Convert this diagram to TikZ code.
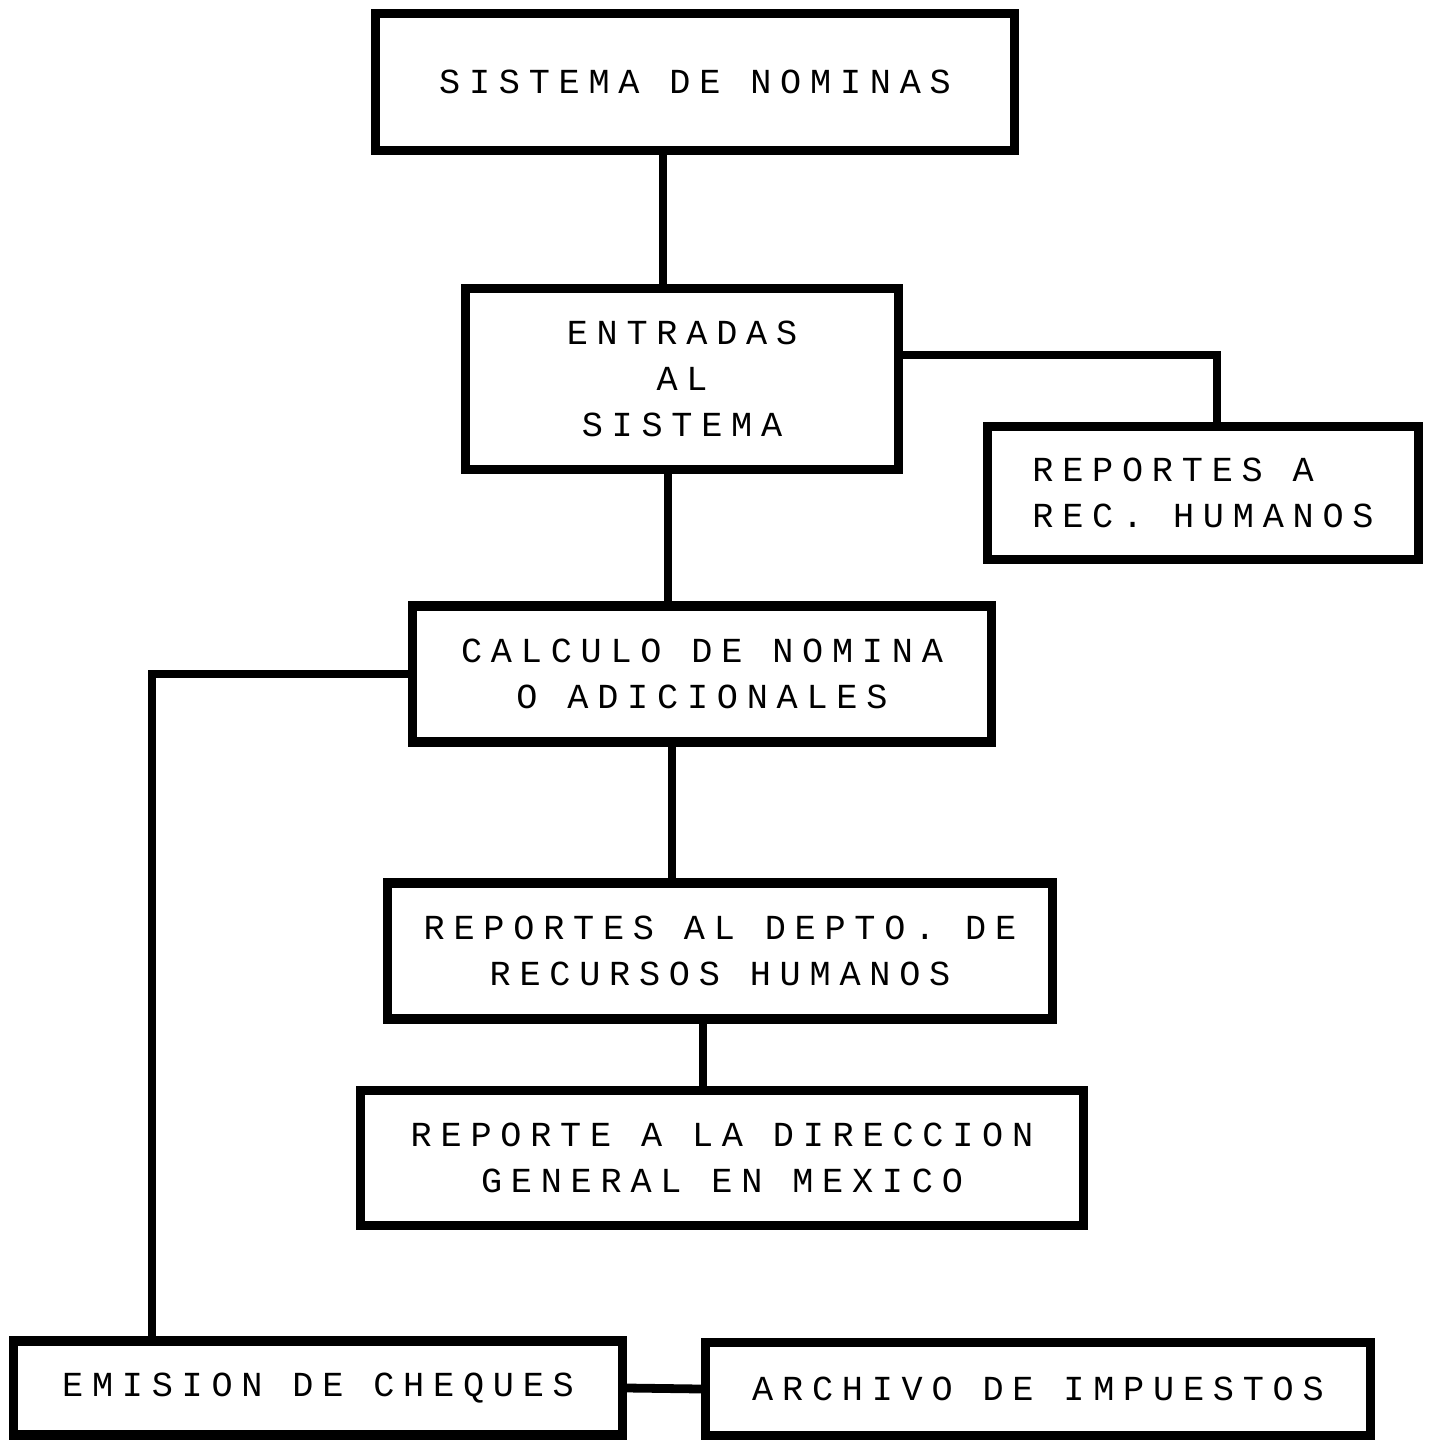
\documentclass[tikz,border=0pt]{standalone}
\usepackage{fontspec}
\newfontfamily\dotfont[LetterSpace=25]{Liberation Mono}
\usetikzlibrary{positioning,calc}

\begin{document}
\begin{tikzpicture}[x=0.01cm, y=-0.01cm, line width=2.5pt,
  box/.style={draw, line width=2.6pt, inner sep=0pt, align=center,
    font=\dotfont\fontsize{10}{13}\selectfont}]
\newcommand{\nbox}[1][]{\node [box, #1]}
\useasboundingbox (0,0) rectangle (1429,1441);

\nbox [minimum width=6.38cm, minimum height=1.37cm] (nom) at (695,82) {SISTEMA DE NOMINAS};
\nbox [minimum width=4.32cm, minimum height=1.81cm] (ent) at (682,379) {ENTRADAS\\AL\\SISTEMA};
\nbox [minimum width=4.31cm, minimum height=1.33cm, align=left] (rrh) at (1203,493) {REPORTES A\\REC. HUMANOS};
\nbox [minimum width=5.79cm, minimum height=1.36cm] (cal) at (702,674) {CALCULO DE NOMINA\\O ADICIONALES};
\nbox [minimum width=6.65cm, minimum height=1.36cm] (dep) at (720,951) {REPORTES AL DEPTO. DE\\RECURSOS HUMANOS};
\nbox [minimum width=7.22cm, minimum height=1.35cm] (dir) at (722,1158) {REPORTE A LA DIRECCION\\GENERAL EN MEXICO};
\nbox [minimum width=6.08cm, minimum height=0.94cm] (che) at (318,1388) {EMISION DE CHEQUES};
\nbox [minimum width=6.64cm, minimum height=0.93cm] (imp) at (1038,1389) {ARCHIVO DE IMPUESTOS};

% connectors
\draw ([xshift=-0.19cm]ent.north) -- ([xshift=-0.19cm]ent.north |- nom.south);
\draw ([yshift=0.24cm]ent.east) -| ([xshift=0.14cm]rrh.north);
\draw ([xshift=-0.14cm]ent.south) -- ([xshift=-0.14cm]ent.south |- cal.north);
\draw (cal.west) -| ([xshift=-1.66cm]che.north);
\draw ([xshift=-0.30cm]cal.south) -- ([xshift=-0.30cm]cal.south |- dep.north);
\draw ([xshift=-0.17cm]dep.south) -- ([xshift=-0.17cm]dep.south |- dir.north);
\draw (che.east) -- (imp.west);
\end{tikzpicture}
\end{document}
